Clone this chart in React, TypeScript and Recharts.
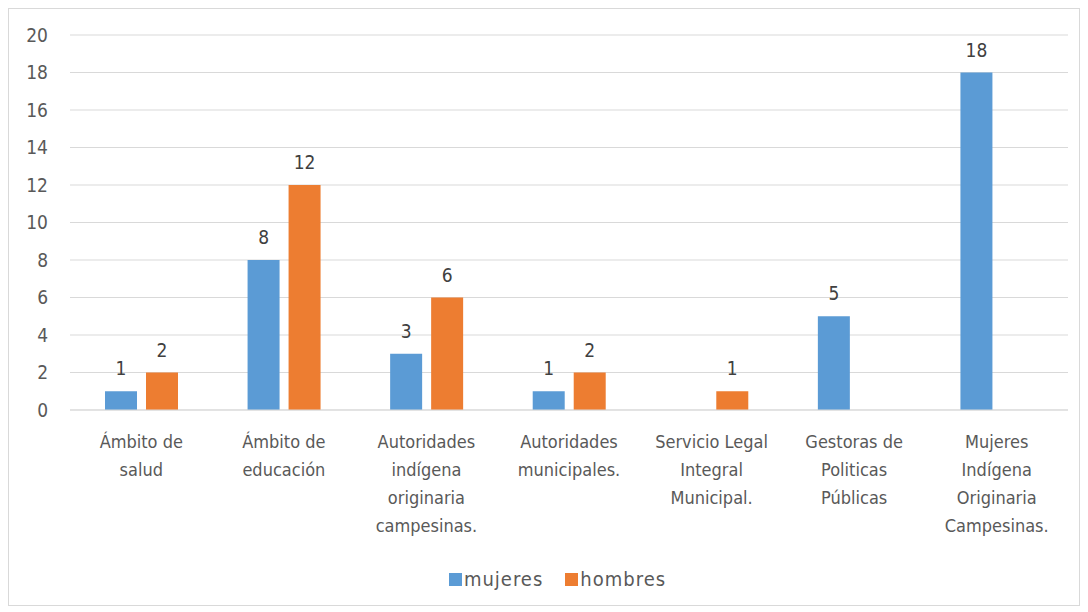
import { Bar, BarChart, CartesianGrid, LabelList, Legend, XAxis, YAxis } from "recharts";

const categories = [
  "Ámbito de\nsalud",
  "Ámbito de\neducación",
  "Autoridades\nindígena\noriginaria\ncampesinas.",
  "Autoridades\nmunicipales.",
  "Servicio Legal\nIntegral\nMunicipal.",
  "Gestoras de\nPoliticas\nPúblicas",
  "Mujeres\nIndígena\nOriginaria\nCampesinas.",
];
const mujeres = [1, 8, 3, 1, null, 5, 18];
const hombres = [2, 12, 6, 2, 1, null, null];
const yTicks = [0, 2, 4, 6, 8, 10, 12, 14, 16, 18, 20];
const seriesOrder = ["mujeres", "hombres"];

const FONT = '"Liberation Sans Narrow", "DejaVu Sans Condensed", sans-serif';
const BLUE = "#5B9BD5";
const ORANGE = "#ED7D31";

const data = categories.map((c, i) => ({ cat: c, mujeres: mujeres[i], hombres: hombres[i] }));

function CatTick({ x, y, payload }: any) {
  const lines = String(payload.value).split("\n");
  return (
    <text x={x} y={y} textAnchor="middle" fill="#595959" fontSize={18} fontFamily={FONT}>
      {lines.map((l, i) => (
        <tspan key={i} x={x} y={y + 30 + i * 28}>
          {l}
        </tspan>
      ))}
    </text>
  );
}

function LegendBox({ payload }: any) {
  const items = [...(payload || [])].sort(
    (a: any, b: any) => seriesOrder.indexOf(a.value) - seriesOrder.indexOf(b.value)
  );
  return (
    <div
      style={{
        display: "flex",
        justifyContent: "center",
        alignItems: "center",
        gap: 22,
        height: 30,
        paddingLeft: 38,
        fontFamily: FONT,
        fontSize: 20,
        letterSpacing: 1,
        color: "#595959",
      }}
    >
      {items.map((p: any) => (
        <div key={p.value} style={{ display: "flex", alignItems: "center" }}>
          <span style={{ width: 13, height: 13, background: p.color, display: "inline-block", marginRight: 2 }} />
          <span>{p.value}</span>
        </div>
      ))}
    </div>
  );
}

export default function App() {
  return (
    <div style={{ width: 1070, height: 596, border: "1px solid #d9d9d9", background: "#fff" }}>
      <BarChart
        width={1070}
        height={596}
        data={data}
        margin={{ top: 26, right: 11, left: 0, bottom: 11 }}
        barSize={32}
        barGap={9}
      >
        <CartesianGrid vertical={false} stroke="#d9d9d9" />
        <XAxis
          dataKey="cat"
          interval={0}
          height={154}
          tickLine={false}
          axisLine={{ stroke: "#d9d9d9" }}
          tick={<CatTick />}
        />
        <YAxis
          width={61}
          domain={[0, 20]}
          ticks={yTicks}
          tickLine={false}
          axisLine={false}
          tickSize={0}
          tickMargin={22}
          tick={{ fill: "#595959", fontSize: 19, fontFamily: FONT }}
        />
        <Legend verticalAlign="bottom" height={30} content={<LegendBox />} />
        <Bar dataKey="mujeres" name="mujeres" fill={BLUE} isAnimationActive={false}>
          <LabelList dataKey="mujeres" position="top" offset={16} fill="#404040" fontSize={19} fontFamily={FONT} />
        </Bar>
        <Bar dataKey="hombres" name="hombres" fill={ORANGE} isAnimationActive={false}>
          <LabelList dataKey="hombres" position="top" offset={16} fill="#404040" fontSize={19} fontFamily={FONT} />
        </Bar>
      </BarChart>
    </div>
  );
}
